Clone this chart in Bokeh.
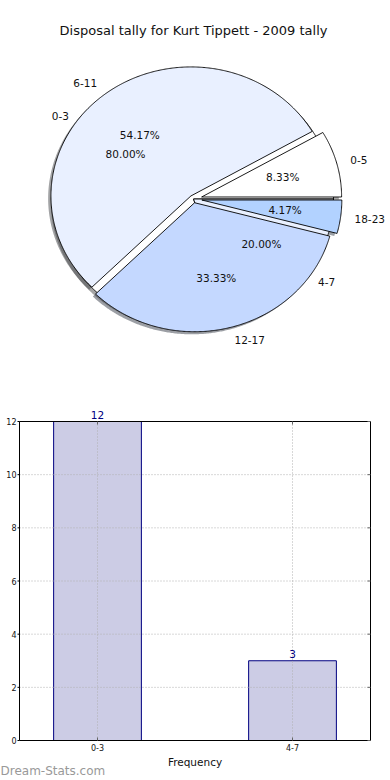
import numpy as np
from bokeh.plotting import figure
from bokeh.models import Range1d, ColumnDataSource
from bokeh.core.properties import value
from bokeh.embed import file_html
from bokeh.resources import INLINE

# ---------------- data ----------------
title_text = "Disposal tally for Kurt Tippett - 2009 tally"
pie_a_cats = ["0-5", "6-11", "12-17", "18-23"]
pie_a_counts = [2, 13, 8, 1]
pie_b_cats = ["0-3", "4-7"]
pie_b_counts = [12, 3]
bar_cats = ["0-3", "4-7"]
bar_counts = [12, 3]
bar_yticks = [0, 2, 4, 6, 8, 10, 12]
x_label = "Frequency"
watermark = "Dream-Stats.com"

# ---------------- styles / layout ----------------
FONT = "DejaVu Sans"
TXT = "#111111"
pie_a_colors = ["#ffffff", "#e9f0ff", "#c4d8ff", "#b2d2ff"]
pie_a_explode = [0.06, 0.03, 0.03, 0.06]
pie_b_colors = ["#ffffff", "#e9f0ff"]
pie_b_explode = [0.0, 0.0]

W, H = 390, 780
RX, RY = 140.0, 129.0          # pixel radii of the (elliptical) pie
PCX, PCY = 193.0, 198.5        # pie centre, page pixels

BX = (-0.4, 1.4)               # bar chart axis limits
BY = (0.0, 12.0)
FL, FR, FT, FB = 19.0, 370.0, 421.0, 740.0   # bar chart frame, page pixels
SX = (FR - FL) / (BX[1] - BX[0])
SY = (FB - FT) / (BY[1] - BY[0])


def hex_to_rgb(h):
    h = h.lstrip("#")
    return tuple(int(h[i:i + 2], 16) for i in (0, 2, 4))


def shadow_color(h):
    r, g, b = hex_to_rgb(h)
    return "#%02x%02x%02x" % (int(r * 0.3), int(g * 0.3), int(b * 0.3))


def build_pie(cats, counts, explode, colors):
    total = float(sum(counts))
    xs, ys, fills, shadows = [], [], [], []
    lab = {"left": dict(x=[], y=[], text=[]), "right": dict(x=[], y=[], text=[])}
    pct = dict(x=[], y=[], text=[])
    th1 = 0.0
    for cat, c, e, col in zip(cats, counts, explode, colors):
        frac = c / total
        th2 = th1 + 360.0 * frac
        mid = np.deg2rad((th1 + th2) / 2.0)
        ox, oy = e * np.cos(mid), e * np.sin(mid)
        n = max(int(abs(th2 - th1) * 2), 6)
        t = np.deg2rad(np.linspace(th1, th2, n))
        xs.append(list(np.concatenate([[ox], ox + np.cos(t)])))
        ys.append(list(np.concatenate([[oy], oy + np.sin(t)])))
        fills.append(col)
        shadows.append(shadow_color(col))
        side = "right" if np.cos(mid) < 0 else "left"
        lab[side]["x"].append(ox + 1.1 * np.cos(mid))
        lab[side]["y"].append(oy + 1.1 * np.sin(mid))
        lab[side]["text"].append(cat)
        pct["x"].append(ox + 0.6 * np.cos(mid))
        pct["y"].append(oy + 0.6 * np.sin(mid))
        pct["text"].append("%.2f%%" % (100.0 * frac))
        th1 = th2
    wed = dict(xs=xs, ys=ys, fill=fills, shadow=shadows,
               sxs=[[v - 0.02 for v in a] for a in xs],
               sys=[[v - 0.02 for v in a] for a in ys])
    return wed, lab, pct


pa, la, qa = build_pie(pie_a_cats, pie_a_counts, pie_a_explode, pie_a_colors)
pb, lb, qb = build_pie(pie_b_cats, pie_b_counts, pie_b_explode, pie_b_colors)

p = figure(width=W, height=H, output_backend="svg", toolbar_location=None,
           x_range=Range1d(-PCX / RX, (W - PCX) / RX),
           y_range=Range1d((PCY - H) / RY, PCY / RY),
           x_axis_location=None, y_axis_location=None, min_border=0)
p.grid.visible = False
p.outline_line_color = None
p.background_fill_color = "white"
p.extra_x_ranges = {"bx": Range1d(BX[0] - FL / SX, BX[1] + (W - FR) / SX)}
p.extra_y_ranges = {"by": Range1d(BY[0] - (H - FB) / SY, BY[1] + FT / SY)}

# ---------------- pie ----------------
for src in (pb, pa):
    p.patches(xs="sxs", ys="sys", source=ColumnDataSource(src), fill_color="shadow",
              fill_alpha=0.5, line_color=None)
for src in (pb, pa):
    p.patches(xs="xs", ys="ys", source=ColumnDataSource(src), fill_color="fill",
              line_color="black", line_width=0.9)

for lab in (lb, la):
    for al, sub in lab.items():
        p.text(x="x", y="y", text="text", source=ColumnDataSource(sub),
               text_align=al, text_baseline="middle", text_font=value(FONT),
               text_font_size="10.5px", text_color=TXT)
for src in (qb, qa):
    p.text(x="x", y="y", text="text", source=ColumnDataSource(src),
           text_align="center", text_baseline="middle", text_font=value(FONT),
           text_font_size="10.5px", text_color=TXT)

p.text(x=[0.0], y=[(PCY - 30) / RY], text=[title_text], text_align="center",
       text_baseline="middle", text_font=value(FONT), text_font_size="13px",
       text_color=TXT)

# ---------------- bar chart (on the extra ranges) ----------------
R = dict(x_range_name="bx", y_range_name="by")
xpos = list(range(len(bar_cats)))
bsrc = ColumnDataSource(dict(x=xpos, top=bar_counts,
                             ty=[v + 3 / SY for v in bar_counts],
                             text=[str(v) for v in bar_counts]))
p.vbar(x="x", top="top", bottom=BY[0], width=0.45, source=bsrc,
       fill_color="#ccccE5", line_color="#000080", line_width=1, **R)

# dotted grid above the bars
gy = list(bar_yticks)
p.segment(x0=[BX[0]] * len(gy), x1=[BX[1]] * len(gy), y0=gy, y1=gy,
          line_color="#b0b0b0", line_dash="1 2", line_width=1, **R)
p.segment(x0=xpos, x1=xpos, y0=[BY[0]] * len(xpos), y1=[BY[1]] * len(xpos),
          line_color="#b0b0b0", line_dash="1 2", line_width=1, **R)

# frame
p.quad(left=[BX[0]], right=[BX[1]], bottom=[BY[0]], top=[BY[1]], fill_color=None,
       line_color="black", line_width=1, **R)

# ticks
p.segment(x0=[BX[0] - 2 / SX] * len(gy), x1=[BX[0]] * len(gy), y0=gy, y1=gy,
          line_color="black", **R)
p.segment(x0=[BX[1] - 3 / SX] * len(gy), x1=[BX[1]] * len(gy), y0=gy, y1=gy,
          line_color="#666666", **R)
p.segment(x0=xpos, x1=xpos, y0=[BY[0]] * len(xpos), y1=[BY[0] + 3 / SY] * len(xpos),
          line_color="#666666", **R)
p.segment(x0=xpos, x1=xpos, y0=[BY[1]] * len(xpos), y1=[BY[1] - 3 / SY] * len(xpos),
          line_color="#666666", **R)

# tick labels
p.text(x=[BX[0] - 3 / SX] * len(gy), y=gy, text=[str(t) for t in bar_yticks],
       text_align="right", text_baseline="middle", text_font=value(FONT),
       text_font_size="8px", text_color=TXT, **R)
p.text(x=xpos, y=[BY[0] - 7 / SY] * len(xpos), text=bar_cats,
       text_align="center", text_baseline="middle", text_font=value(FONT),
       text_font_size="8px", text_color=TXT, **R)
p.text(x=[(BX[0] + BX[1]) / 2], y=[BY[0] - 21 / SY], text=[x_label],
       text_align="center", text_baseline="middle", text_font=value(FONT),
       text_font_size="10.5px", text_color=TXT, **R)

# value labels
p.text(x="x", y="ty", text="text", source=bsrc, text_align="center",
       text_baseline="bottom", text_font=value(FONT), text_font_size="10.5px",
       text_color="#000080", **R)

# watermark
p.text(x=[BX[0] - FL / SX], y=[BY[0] - 30 / SY], text=[watermark],
       text_align="left", text_baseline="middle", text_font=value(FONT),
       text_font_size="12px", text_color="#999999", **R)

open("out.html", "w").write(file_html(p, INLINE))
